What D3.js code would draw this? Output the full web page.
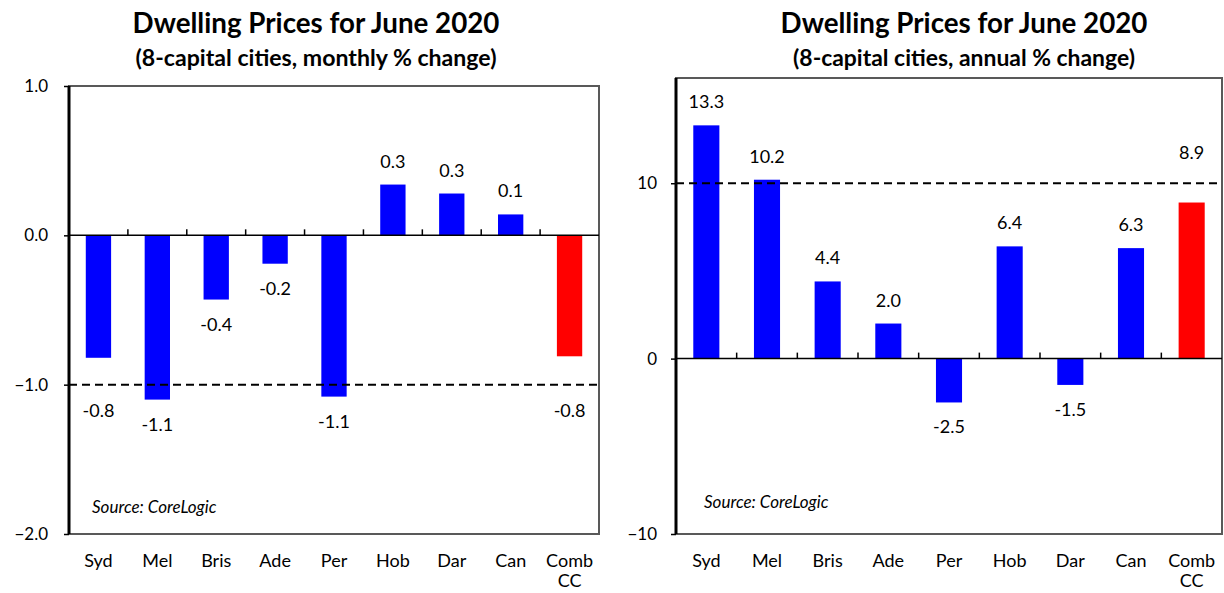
<!DOCTYPE html>
<html>
<head>
<meta charset="utf-8">
<script src="https://cdn.jsdelivr.net/npm/d3@7/dist/d3.min.js"></script>
<style>
  html, body { margin: 0; padding: 0; background: #fff; }
  svg { display: block; font-family: Lato, "Open Sans", sans-serif; }
</style>
</head>
<body>
<svg id="chart" width="1224" height="593"></svg>
<script>
// ---- data ----
const categories = ["Syd", "Mel", "Bris", "Ade", "Per", "Hob", "Dar", "Can", "Comb CC"];
const monthlyChange = [-0.82, -1.10, -0.43, -0.19, -1.08, 0.34, 0.28, 0.14, -0.81];
const annualChange = [13.3, 10.2, 4.4, 2.0, -2.5, 6.4, -1.5, 6.3, 8.9];
const monthlyTicks = [1.0, 0.0, -1.0, -2.0];
const annualTicks = [10, 0, -10];
const monthlyReference = -1.0;
const annualReference = 10;
const highlightCategory = "Comb CC";
const titleText = "Dwelling Prices for June 2020";
const monthlySubtitle = "(8-capital cities, monthly % change)";
const annualSubtitle = "(8-capital cities, annual % change)";
const sourceText = "Source: CoreLogic";

// ---- layout ----
const svg = d3.select("#chart");
const panels = [
  { values: monthlyChange, ticks: monthlyTicks, domain: [-2, 1], ref: monthlyReference,
    subtitle: monthlySubtitle, fmtTick: d3.format(".1f"),
    x0: 69, x1: 599, top: 86, bottom: 534, tickRight: 48, titleX: 316, subtitleX: 316,
    subtitleW: 361, sourceX: 92, sourceY: 513 },
  { values: annualChange, ticks: annualTicks, domain: [-10, 16], ref: annualReference,
    subtitle: annualSubtitle, fmtTick: d3.format("d"),
    x0: 676, x1: 1222, top: 78, bottom: 534, tickRight: 657, titleX: 964, subtitleX: 964,
    subtitleW: 342, sourceX: 704, sourceY: 508 }
];

function fitText(sel, width) {
  const node = sel.node();
  const fs = parseFloat(sel.attr("font-size"));
  const w = node.getComputedTextLength();
  sel.attr("font-size", (fs * width / w).toFixed(2));
}

panels.forEach(p => {
  const g = svg.append("g");
  const x = d3.scaleBand().domain(categories).range([p.x0, p.x1])
    .paddingInner(0.57).paddingOuter(0.285);
  const y = d3.scaleLinear().domain(p.domain).range([p.bottom, p.top]);
  const step = x.step();

  // titles
  const t = g.append("text").attr("x", p.titleX).attr("y", 33)
    .attr("text-anchor", "middle").attr("font-weight", "bold")
    .attr("font-size", 25).attr("fill", "#000").text(titleText);
  fitText(t, 367);
  const s = g.append("text").attr("x", p.subtitleX).attr("y", 66)
    .attr("text-anchor", "middle").attr("font-weight", "bold")
    .attr("font-size", 19).attr("fill", "#000").text(p.subtitle);
  fitText(s, p.subtitleW);

  // plot border
  g.append("rect").attr("x", p.x0).attr("y", p.top)
    .attr("width", p.x1 - p.x0).attr("height", p.bottom - p.top)
    .attr("fill", "none").attr("stroke", "#595959").attr("stroke-width", 2);

  // bars
  g.selectAll("rect.bar").data(categories).join("rect")
    .attr("class", "bar")
    .attr("x", d => x(d))
    .attr("width", x.bandwidth())
    .attr("y", (d, i) => y(Math.max(0, p.values[i])))
    .attr("height", (d, i) => Math.abs(y(p.values[i]) - y(0)))
    .attr("fill", d => d === highlightCategory ? "#FF0000" : "#0000FF");

  // reference dashed line
  g.append("line").attr("x1", p.x0).attr("x2", p.x1)
    .attr("y1", y(p.ref)).attr("y2", y(p.ref))
    .attr("stroke", "#000").attr("stroke-width", 2).attr("stroke-dasharray", "8,5");

  // zero line with category tick marks
  g.append("line").attr("x1", p.x0).attr("x2", p.x1)
    .attr("y1", y(0)).attr("y2", y(0))
    .attr("stroke", "#000").attr("stroke-width", 1.5);
  g.selectAll("line.ctick").data(categories.slice(1)).join("line")
    .attr("class", "ctick")
    .attr("x1", d => x(d) - (step - x.bandwidth()) / 2)
    .attr("x2", d => x(d) - (step - x.bandwidth()) / 2)
    .attr("y1", y(0)).attr("y2", y(0) - 6)
    .attr("stroke", "#000").attr("stroke-width", 1.5);

  // y axis
  const yAxis = d3.axisLeft(y).tickValues(p.ticks).tickFormat(p.fmtTick)
    .tickSize(5).tickPadding(p.x0 - p.tickRight - 5);
  const ga = g.append("g").attr("transform", `translate(${p.x0},0)`).call(yAxis);
  ga.select(".domain").attr("stroke", "#000").attr("stroke-width", 3)
    .attr("d", `M0,${p.top}V${p.bottom}`);
  ga.selectAll(".tick line").attr("stroke", "#000").attr("stroke-width", 1.5);
  ga.selectAll(".tick text").attr("font-size", 17).attr("fill", "#000")
    .attr("font-family", "Lato, 'Open Sans', sans-serif");

  // category labels
  const cl = g.selectAll("text.cat").data(categories).join("text")
    .attr("class", "cat")
    .attr("text-anchor", "middle")
    .attr("font-size", 18).attr("fill", "#000");
  cl.each(function(d) {
    const parts = d.split(" ");
    d3.select(this).selectAll("tspan").data(parts).join("tspan")
      .attr("x", x(d) + x.bandwidth() / 2)
      .attr("y", (w, j) => 567 + j * 20)
      .text(w => w);
  });

  // value labels
  g.selectAll("text.val").data(categories).join("text")
    .attr("class", "val")
    .attr("text-anchor", "middle")
    .attr("dominant-baseline", "central")
    .attr("font-size", 18).attr("fill", "#000")
    .attr("x", d => x(d) + x.bandwidth() / 2)
    .attr("y", (d, i) => {
      const v = p.values[i];
      let ly = v < 0 ? y(v) + 24 : y(v) - 24;
      const ry = y(p.ref);
      if (Math.abs(ly - ry) < 14) ly = v < 0 ? ry + 25 : ry - 31;
      return ly;
    })
    .text((d, i) => p.values[i].toFixed(1));

  // source note
  g.append("text").attr("x", p.sourceX).attr("y", p.sourceY)
    .attr("font-size", 17).attr("font-style", "italic").attr("fill", "#000")
    .text(sourceText);
});
</script>
</body>
</html>
